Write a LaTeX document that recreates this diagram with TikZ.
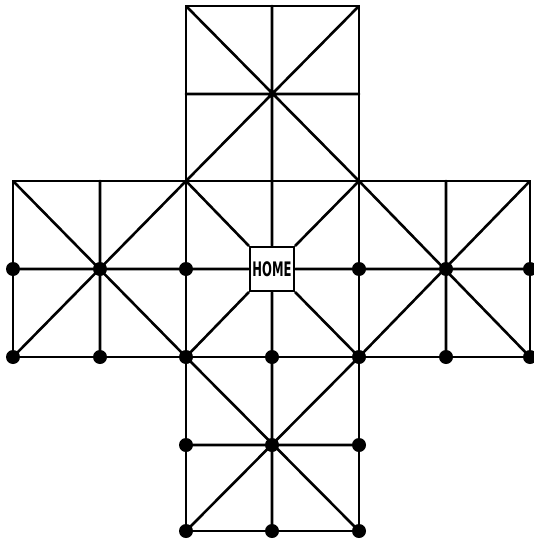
\documentclass[tikz,border=0pt]{standalone}
\usepackage{graphicx}
\usepackage{fontspec}
\newfontfamily\homefont{DejaVu Sans}
\begin{document}
\begin{tikzpicture}[x=1pt,y=-1pt,
  board/.style={line width=2.6pt, line join=round, line cap=round},
  peg/.style={circle, fill=black, inner sep=0pt, minimum size=14pt},
  homebox/.style={draw, line width=2.8pt, fill=white, minimum size=44pt, inner sep=0pt}]
\useasboundingbox (0,0) rectangle (533,543);
% grid coordinates
\foreach \i/\x in {0/13,1/100,2/186,3/272,4/359,5/446,6/530}{
  \foreach \j/\y in {0/6,1/94,2/181,3/269,4/357,5/445,6/531}{
    \coordinate (p\i\j) at (\x,\y);
  }
}
% top arm
\draw[board] (p20) rectangle (p42);
\draw[board] (p30) -- (p32) (p21) -- (p41) (p20) -- (p42) (p40) -- (p22);
% left arm
\draw[board] (p02) rectangle (p24);
\draw[board] (p12) -- (p14) (p03) -- (p23) (p02) -- (p24) (p22) -- (p04);
% right arm
\draw[board] (p42) rectangle (p64);
\draw[board] (p52) -- (p54) (p43) -- (p63) (p42) -- (p64) (p62) -- (p44);
% bottom arm
\draw[board] (p24) rectangle (p46);
\draw[board] (p34) -- (p36) (p25) -- (p45) (p24) -- (p46) (p44) -- (p26);
% centre square with HOME
\node[homebox] (home) at (p33) {\scalebox{0.58}[1]{\fontsize{20}{20}\selectfont\homefont\bfseries HOME}};
\draw[board] (p32) -- (home.north) (p34) -- (home.south)
  (p23) -- (home.west) (p43) -- (home.east)
  (p22) -- (home.north west) (p42) -- (home.north east)
  (p24) -- (home.south west) (p44) -- (home.south east);
% pegs
\foreach \p in {p03,p13,p23,p04,p14,p24,
                p43,p53,p63,p44,p54,p64,
                p34,p25,p35,p45,p26,p36,p46}{
  \node[peg] (n\p) at (\p) {};
}
\end{tikzpicture}
\end{document}
